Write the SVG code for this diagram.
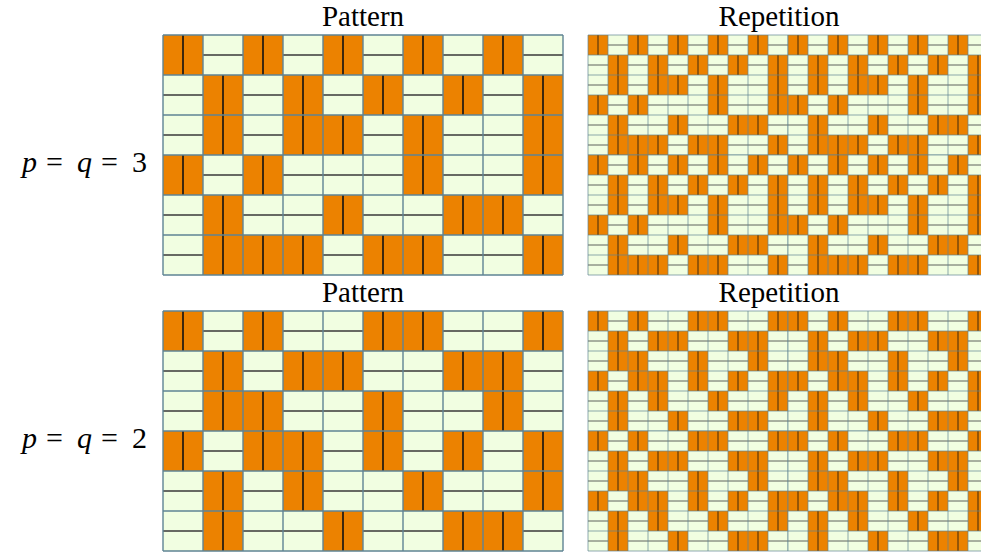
<svg xmlns="http://www.w3.org/2000/svg" xmlns:xlink="http://www.w3.org/1999/xlink" width="981" height="554" viewBox="0 0 981 554">
<style>
.t{font-family:"Liberation Serif","Times New Roman",serif;font-size:29px;fill:#000}
.m{font-family:"Liberation Serif","Times New Roman",serif;font-size:30px;fill:#000}
.i{font-style:italic}
.bg{fill:#F1FEE1}
.hs{fill:none;stroke:#3a3a3a;stroke-width:1.6}
.vs{stroke:#111;stroke-width:1.6}
.gr{fill:none;stroke:#5f8494;stroke-width:1.4}
</style>
<defs>
<g id="O"><rect width="40" height="40" fill="#EC8200"/><line class="vs" x1="20" y1="0" x2="20" y2="40"/></g>
<path id="grid" class="gr" d="M0 0V240M40 0V240M80 0V240M120 0V240M160 0V240M200 0V240M240 0V240M280 0V240M320 0V240M360 0V240M400 0V240M0 0H400M0 40H400M0 80H400M0 120H400M0 160H400M0 200H400M0 240H400"/>
<g id="light"><rect class="bg" width="400" height="240"/><path class="hs" d="M0 20H400M0 60H400M0 100H400M0 140H400M0 180H400M0 220H400"/></g>
<g id="A">
<use xlink:href="#light"/>
<use xlink:href="#O" x="0" y="0"/><use xlink:href="#O" x="80" y="0"/><use xlink:href="#O" x="160" y="0"/><use xlink:href="#O" x="240" y="0"/><use xlink:href="#O" x="320" y="0"/>
<use xlink:href="#O" x="40" y="40"/><use xlink:href="#O" x="120" y="40"/><use xlink:href="#O" x="200" y="40"/><use xlink:href="#O" x="280" y="40"/><use xlink:href="#O" x="360" y="40"/>
<use xlink:href="#O" x="40" y="80"/><use xlink:href="#O" x="120" y="80"/><use xlink:href="#O" x="160" y="80"/><use xlink:href="#O" x="240" y="80"/><use xlink:href="#O" x="360" y="80"/>
<use xlink:href="#O" x="0" y="120"/><use xlink:href="#O" x="80" y="120"/><use xlink:href="#O" x="240" y="120"/><use xlink:href="#O" x="360" y="120"/>
<use xlink:href="#O" x="40" y="160"/><use xlink:href="#O" x="160" y="160"/><use xlink:href="#O" x="280" y="160"/><use xlink:href="#O" x="320" y="160"/>
<use xlink:href="#O" x="40" y="200"/><use xlink:href="#O" x="80" y="200"/><use xlink:href="#O" x="120" y="200"/><use xlink:href="#O" x="200" y="200"/><use xlink:href="#O" x="240" y="200"/><use xlink:href="#O" x="360" y="200"/>
<use xlink:href="#grid"/>
</g>
<g id="B">
<use xlink:href="#light"/>
<use xlink:href="#O" x="0" y="0"/><use xlink:href="#O" x="80" y="0"/><use xlink:href="#O" x="200" y="0"/><use xlink:href="#O" x="240" y="0"/><use xlink:href="#O" x="360" y="0"/>
<use xlink:href="#O" x="40" y="40"/><use xlink:href="#O" x="120" y="40"/><use xlink:href="#O" x="160" y="40"/><use xlink:href="#O" x="280" y="40"/><use xlink:href="#O" x="320" y="40"/>
<use xlink:href="#O" x="40" y="80"/><use xlink:href="#O" x="80" y="80"/><use xlink:href="#O" x="200" y="80"/><use xlink:href="#O" x="320" y="80"/>
<use xlink:href="#O" x="0" y="120"/><use xlink:href="#O" x="80" y="120"/><use xlink:href="#O" x="120" y="120"/><use xlink:href="#O" x="200" y="120"/><use xlink:href="#O" x="280" y="120"/><use xlink:href="#O" x="360" y="120"/>
<use xlink:href="#O" x="40" y="160"/><use xlink:href="#O" x="120" y="160"/><use xlink:href="#O" x="240" y="160"/><use xlink:href="#O" x="360" y="160"/>
<use xlink:href="#O" x="40" y="200"/><use xlink:href="#O" x="160" y="200"/><use xlink:href="#O" x="280" y="200"/><use xlink:href="#O" x="320" y="200"/>
<use xlink:href="#grid"/>
</g>
</defs>
<rect width="981" height="554" fill="#fff"/>
<g id="top-pattern"><use xlink:href="#A" x="163" y="35"/></g>
<g id="top-repetition">
<use xlink:href="#A" transform="translate(588 35) scale(0.5)"/>
<use xlink:href="#A" transform="translate(788 35) scale(0.5)"/>
<use xlink:href="#A" transform="translate(588 155) scale(0.5)"/>
<use xlink:href="#A" transform="translate(788 155) scale(0.5)"/>
</g>
<g id="bottom-pattern"><use xlink:href="#B" x="163" y="311"/></g>
<g id="bottom-repetition">
<use xlink:href="#B" transform="translate(588 311) scale(0.5)"/>
<use xlink:href="#B" transform="translate(788 311) scale(0.5)"/>
<use xlink:href="#B" transform="translate(588 431) scale(0.5)"/>
<use xlink:href="#B" transform="translate(788 431) scale(0.5)"/>
</g>
<g id="labels">
<text class="t" x="363" y="26" text-anchor="middle">Pattern</text>
<text class="t" x="779" y="26" text-anchor="middle">Repetition</text>
<text class="t" x="363" y="302" text-anchor="middle">Pattern</text>
<text class="t" x="779" y="302" text-anchor="middle">Repetition</text>
<text class="m" y="172"><tspan class="i" x="22">p</tspan><tspan x="46">=</tspan><tspan class="i" x="77">q</tspan><tspan x="101">=</tspan><tspan x="132">3</tspan></text>
<text class="m" y="448"><tspan class="i" x="22">p</tspan><tspan x="46">=</tspan><tspan class="i" x="77">q</tspan><tspan x="101">=</tspan><tspan x="132">2</tspan></text>
</g>
</svg>
